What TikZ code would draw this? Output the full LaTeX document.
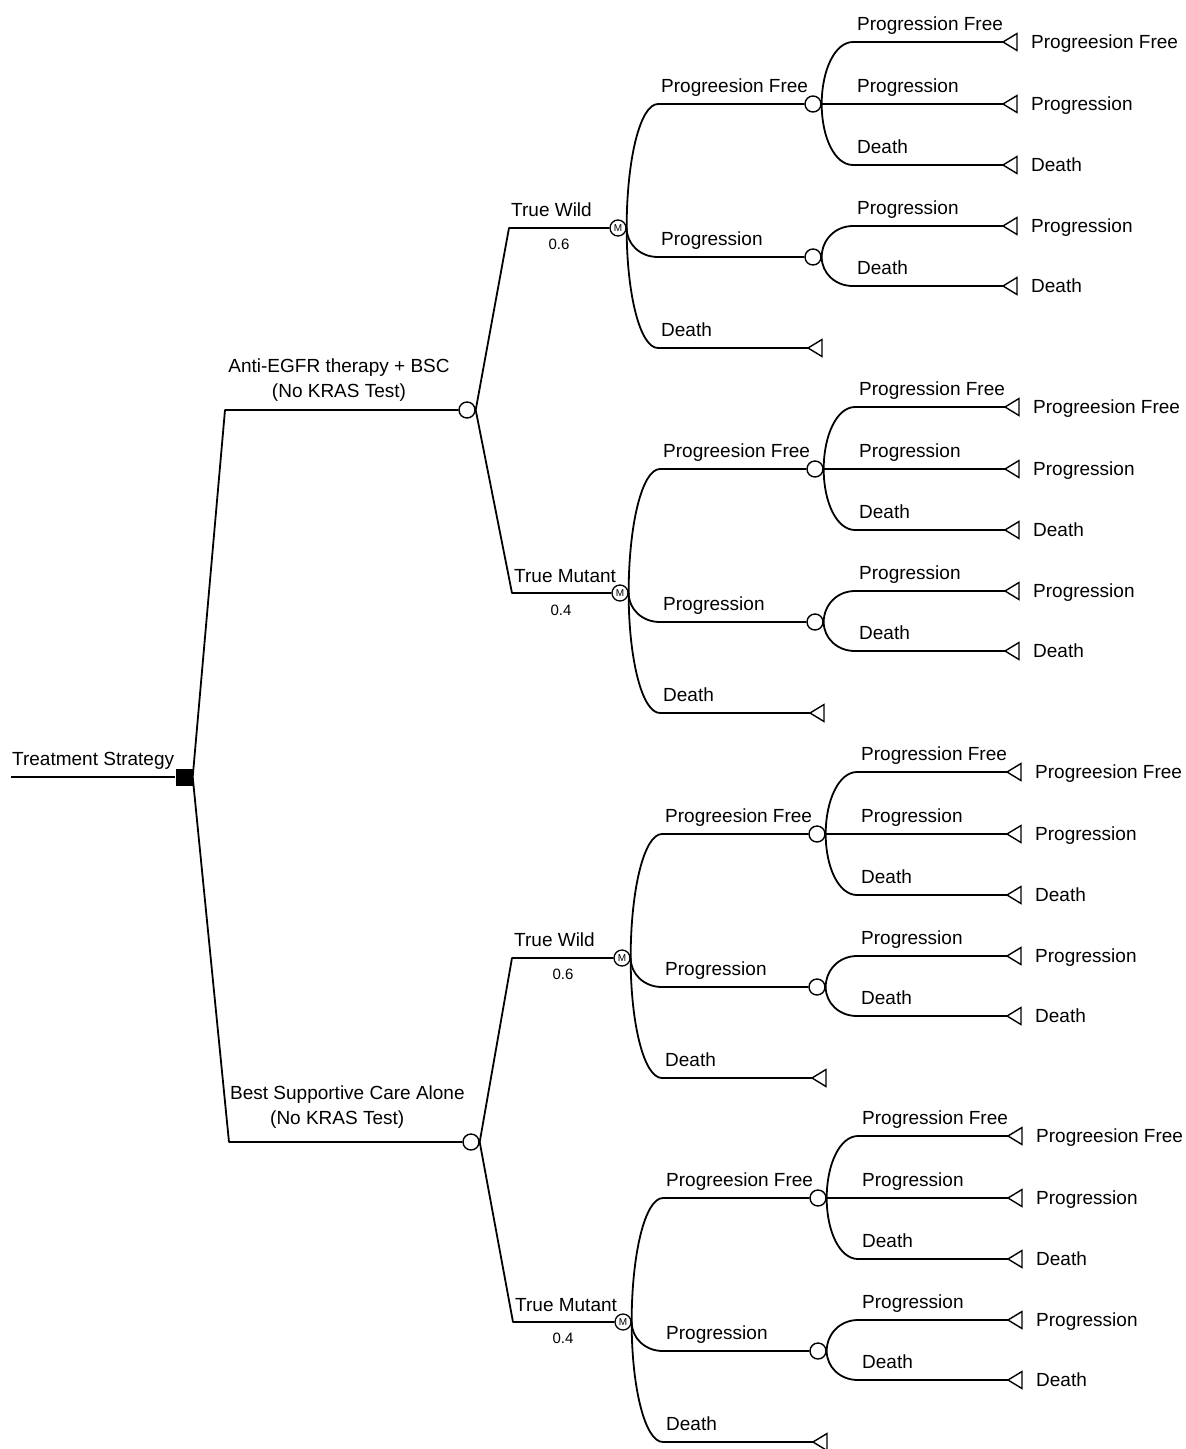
\documentclass[tikz,border=0pt]{standalone}
\usepackage{fontspec}
\setmainfont{Liberation Sans}
\tikzset{
  br/.style={line width=1.8pt, line join=round},
  chance/.style={circle, draw, line width=1.4pt, fill=white, minimum size=16pt, inner sep=0pt},
  mnode/.style={circle, draw, line width=1.3pt, fill=white, minimum size=16pt, inner sep=0pt, font=\fontsize{10}{10}\selectfont},
  dec/.style={rectangle, fill=black, minimum size=17pt, inner sep=0pt},
  lbl/.style={anchor=base west, inner sep=0pt, font=\fontsize{19}{23}\selectfont},
  prob/.style={anchor=base, inner sep=0pt, font=\fontsize{15}{17}\selectfont},
  termtri/.style={line width=1.4pt, line join=miter},
}
\newcommand\term[2]{\coordinate (#1) at (#2); \draw[termtri] (#1) -- ++(14,-8.5) -- ++(0,17) -- cycle;}
\newcommand\mkblock[3]{%
\begin{scope}[shift={(#2,#3)}]
 \node[mnode] (#1m) at (0,0) {M};
 \coordinate (#1h1) at (40,-124);
 \node[chance] (#1c1) at (195,-124) {};
 \coordinate (#1h2) at (40,29);
 \node[chance] (#1c2) at (195,29) {};
 \coordinate (#1h3) at (40,120);
 \term{#1t3}{190,120}
 \draw[br] (#1m.east) .. controls +(0,-68) and +(-18,0) .. (#1h1) -- (#1c1.west);
 \draw[br] (#1m.east) .. controls +(0,16) and +(-18,0) .. (#1h2) -- (#1c2.west);
 \draw[br] (#1m.east) .. controls +(0,66) and +(-18,0) .. (#1h3) -- (#1t3);
 \node[lbl] at (43,-136) {Progreesion Free};
 \node[lbl] at (43,17) {Progression};
 \node[lbl] at (43,108) {Death};
 % children of c1
 \coordinate (#1h11) at (235,-186);
 \coordinate (#1h13) at (235,-63);
 \term{#1t11}{385,-186}
 \term{#1t12}{385,-124}
 \term{#1t13}{385,-63}
 \draw[br] (#1c1.east) .. controls +(0,-34) and +(-18,0) .. (#1h11) -- (#1t11);
 \draw[br] (#1c1.east) -- (#1t12);
 \draw[br] (#1c1.east) .. controls +(0,34) and +(-18,0) .. (#1h13) -- (#1t13);
 \node[lbl] at (239,-198) {Progression Free};
 \node[lbl] at (239,-136) {Progression};
 \node[lbl] at (239,-75) {Death};
 \node[lbl] at (413,-180) {Progreesion Free};
 \node[lbl] at (413,-118) {Progression};
 \node[lbl] at (413,-57) {Death};
 % children of c2
 \coordinate (#1h21) at (235,-2);
 \coordinate (#1h22) at (235,58);
 \term{#1t21}{385,-2}
 \term{#1t22}{385,58}
 \draw[br] (#1c2.east) .. controls +(0,-17) and +(-18,0) .. (#1h21) -- (#1t21);
 \draw[br] (#1c2.east) .. controls +(0,16) and +(-18,0) .. (#1h22) -- (#1t22);
 \node[lbl] at (239,-14) {Progression};
 \node[lbl] at (239,46) {Death};
 \node[lbl] at (413,4) {Progression};
 \node[lbl] at (413,64) {Death};
\end{scope}}
\begin{document}
\begin{tikzpicture}[x=1pt,y=-1pt]
\useasboundingbox (0,0) rectangle (1186,1449);
% root decision
\node[dec] (S) at (184,777) {};
\coordinate (R0) at (11,777);
\draw[br] (R0) -- (S.west);
\node[lbl] at (12,765) {Treatment Strategy};
% strategy chance nodes
\node[chance] (U) at (467,410) {};
\node[chance] (L) at (471,1142) {};
\coordinate (RU) at (225,410);
\coordinate (RL) at (229,1142);
\draw[br] (S.east) -- (RU) -- (U.west);
\draw[br] (S.east) -- (RL) -- (L.west);
\node[align=center, anchor=south, inner sep=0pt, font=\fontsize{19}{25}\selectfont] at (339,402) {Anti-EGFR therapy + BSC\\(No KRAS Test)};
\node[align=left, anchor=south west, inner sep=0pt, font=\fontsize{19}{25}\selectfont] at (230,1129) {Best Supportive Care Alone\\\hspace*{40pt}(No KRAS Test)};
% markov blocks
\mkblock{A}{618}{228}
\mkblock{B}{620}{593}
\mkblock{C}{622}{958}
\mkblock{D}{623}{1322}
% tier 2 connectors
\coordinate (UTW) at (509,228);
\coordinate (UTM) at (512,593);
\coordinate (LTW) at (512,958);
\coordinate (LTM) at (513,1322);
\draw[br] (U.east) -- (UTW) -- (Am.west);
\draw[br] (U.east) -- (UTM) -- (Bm.west);
\draw[br] (L.east) -- (LTW) -- (Cm.west);
\draw[br] (L.east) -- (LTM) -- (Dm.west);
\node[lbl] at (511,216) {True Wild};
\node[prob] at (559,249) {0.6};
\node[lbl] at (514,582) {True Mutant};
\node[prob] at (561,615) {0.4};
\node[lbl] at (514,946) {True Wild};
\node[prob] at (563,979) {0.6};
\node[lbl] at (515,1311) {True Mutant};
\node[prob] at (563,1343) {0.4};
\end{tikzpicture}
\end{document}
